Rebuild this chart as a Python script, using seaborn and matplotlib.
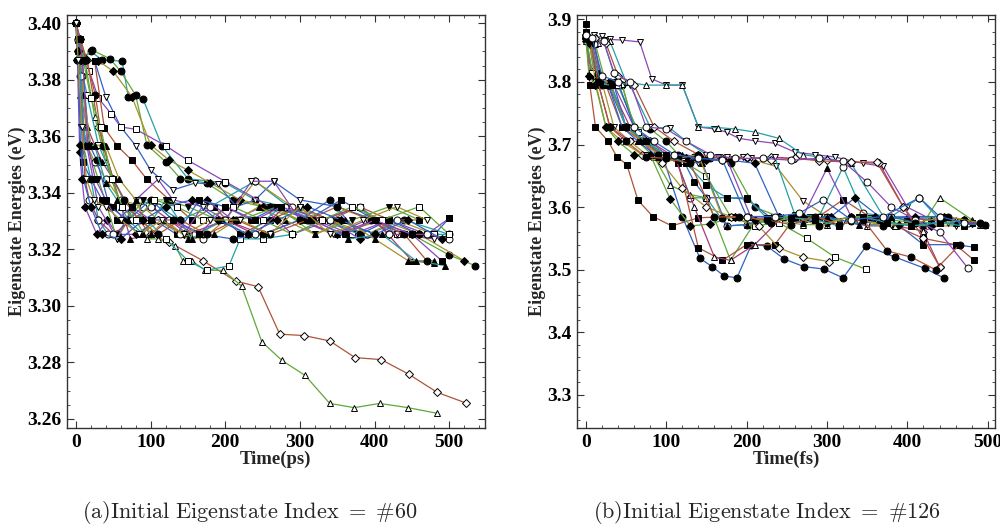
import matplotlib
matplotlib.use("Agg")
import matplotlib.pyplot as plt
import seaborn as sns
import numpy as np
from matplotlib.ticker import MultipleLocator, FormatStrFormatter

sns.set_theme(style="white")
plt.rcParams['font.family'] = ['Liberation Serif', 'DejaVu Serif']
plt.rcParams['mathtext.fontset'] = 'cm'

# ---------------- Panel (a) data: time (ps), energy (eV) ----------------
times_a = [
    [0,3,8,20,35,62,70,90,115,150,200,240,280,330,390,440,500],
    [0,4,10,22,45,60,80,95,120,140,175,210,250,300,350,400,450,500,535],
    [0,5,12,25,40,60,80,100,130,160,190,215,240,265,300,350,400,450,490],
    [0,3,8,18,30,47,60,80,120,150,200,260,320,370,420,470,500],
    [0,4,10,30,50,75,100,125,150,180,220,260,300,350,410,460,520],
    [0,5,10,25,38,55,75,95,125,155,185,220,260,300,340,380,420,460],
    [0,3,6,15,25,35,50,73,100,125,150,200,250,300,350,400,450,480],
    [0,2,5,10,20,30,43,55,85,110,140,180,240,285,330,380,430,470],
    [0,2,5,8,12,28,42,55,80,110,145,175,210,250,290,340,380,420,450],
    [0,3,7,15,30,55,70,90,120,150,190,220,270,320,370,420,460],
    [0,4,9,20,35,50,65,85,105,135,165,200,235,270,310,355,400,440,480,500],
    [0,3,8,15,25,40,60,90,110,140,170,200,240,290,340,390,430,480],
    [0,5,15,30,50,70,100,125,170,214,244,273,306,340,374,409,446,484,522],
    [0,4,12,25,40,60,80,95,110,133,143,155,173,197,222,249,276,307,340,373,407,445,484],
    [0,5,15,30,50,70,95,120,150,175,205,220,250,290,330,380,430,480,500],
    [0,3,6,10,30,55,80,110,130,170,200,235,265,300,345,390,430,480],
    [0,4,8,18,28,45,70,100,130,170,210,250,300,340,380,420,460],
    [0,5,10,20,40,58,80,100,120,150,185,215,245,280,320,360,400,445,480],
    [0,3,7,12,18,30,50,75,100,125,160,200,240,280,330,380,420,470,500],
    [0,5,12,25,40,55,70,90,120,155,195,230,275,320,365,410,455,495],
    [0,6,14,26,36,50,64,85,110,140,175,215,260,310,350,395,440,470],
    [0,4,10,20,33,48,62,80,105,135,170,210,250,290,330,370,410,460,500],
    [0,3,6,10,20,35,60,90,120,155,190,230,270,310,355,400,445,490],
    [0,4,9,16,26,40,55,75,100,130,165,200,240,275,315,360,400,450,490],
    [0,3,8,14,24,40,60,85,115,145,180,220,260,300,340,385,430,470],
]
energies_a = [
    [3.400,3.3945,3.387,3.390,3.387,3.3866,3.374,3.3731,3.3567,3.345,3.3435,3.3375,3.3351,3.3304,3.3253,3.3304,3.3253],
    [3.400,3.394,3.388,3.3905,3.3875,3.383,3.3745,3.357,3.351,3.345,3.3435,3.3375,3.3351,3.3304,3.3304,3.3253,3.3253,3.318,3.3142],
    [3.400,3.3945,3.387,3.3867,3.374,3.3633,3.3567,3.348,3.341,3.3435,3.343,3.3351,3.3375,3.344,3.3375,3.3351,3.3304,3.3253,3.3237],
    [3.400,3.394,3.387,3.383,3.3735,3.368,3.3633,3.3625,3.3567,3.3515,3.344,3.3351,3.3304,3.3253,3.3304,3.3253,3.331],
    [3.400,3.3945,3.3867,3.3867,3.383,3.374,3.357,3.3515,3.348,3.3435,3.3375,3.3351,3.3304,3.3253,3.3304,3.3253,3.316],
    [3.400,3.3945,3.387,3.3867,3.363,3.3567,3.3515,3.3448,3.3375,3.3304,3.3351,3.3253,3.3304,3.3351,3.3304,3.3351,3.3304,3.3304],
    [3.400,3.390,3.3745,3.3633,3.357,3.351,3.3448,3.3237,3.3253,3.3304,3.3253,3.3304,3.3253,3.3304,3.3253,3.3304,3.3160,3.3150],
    [3.400,3.387,3.3815,3.3567,3.3448,3.3304,3.3253,3.3253,3.3375,3.3351,3.3304,3.3351,3.3441,3.3351,3.3304,3.3253,3.3253,3.3253],
    [3.400,3.387,3.3545,3.345,3.3351,3.3253,3.3304,3.3253,3.3253,3.3304,3.3253,3.3375,3.3304,3.3351,3.3253,3.3304,3.3237,3.3253,3.3253],
    [3.400,3.3945,3.3633,3.3567,3.3448,3.3237,3.3304,3.3375,3.3375,3.3351,3.3304,3.3304,3.3351,3.3253,3.3304,3.3351,3.3304],
    [3.400,3.3945,3.351,3.3448,3.3375,3.3351,3.3304,3.3253,3.3304,3.3253,3.3375,3.3351,3.3304,3.3351,3.3304,3.3375,3.3304,3.3253,3.3253,3.331],
    [3.400,3.390,3.3815,3.3567,3.351,3.3448,3.3375,3.3351,3.3304,3.3253,3.3237,3.3304,3.3441,3.3351,3.3304,3.3253,3.3304,3.3253],
    [3.400,3.3945,3.387,3.3633,3.3448,3.3351,3.3253,3.3225,3.316,3.3088,3.3068,3.290,3.2895,3.2876,3.2817,3.281,3.2758,3.2694,3.2657],
    [3.400,3.394,3.387,3.367,3.351,3.3351,3.3304,3.3237,3.3237,3.3213,3.316,3.316,3.3126,3.3126,3.307,3.2873,3.2807,3.2754,3.2655,3.264,3.2655,3.264,3.262],
    [3.400,3.3867,3.3745,3.357,3.3448,3.3351,3.3304,3.3237,3.316,3.3126,3.3142,3.3237,3.3237,3.3253,3.3304,3.3351,3.3253,3.3253,3.3253],
    [3.400,3.3945,3.3867,3.363,3.3351,3.3237,3.3375,3.3448,3.3375,3.3351,3.3304,3.3441,3.3441,3.3304,3.3253,3.3304,3.3253,3.3237],
    [3.400,3.394,3.3867,3.357,3.3515,3.3351,3.3304,3.3375,3.3304,3.3253,3.3237,3.3253,3.3304,3.3375,3.3253,3.3304,3.3253],
    [3.400,3.3945,3.3745,3.357,3.3567,3.3448,3.3375,3.3253,3.3304,3.3237,3.3253,3.3304,3.3351,3.3304,3.3253,3.3304,3.3237,3.3160,3.3160],
    [3.400,3.394,3.3815,3.3448,3.3375,3.3304,3.3253,3.3304,3.3351,3.3304,3.3253,3.3304,3.3253,3.3351,3.3304,3.3351,3.3253,3.3253,3.3237],
    [3.400,3.387,3.357,3.3567,3.3435,3.3375,3.3304,3.3253,3.3375,3.3237,3.3304,3.3253,3.3351,3.3304,3.3237,3.3253,3.3160,3.3142],
    [3.400,3.3945,3.387,3.3745,3.3567,3.3448,3.3375,3.3304,3.3253,3.3304,3.3253,3.3304,3.3253,3.3304,3.3351,3.3304,3.3253,3.3160],
    [3.400,3.3945,3.3867,3.3735,3.3633,3.3448,3.3351,3.3304,3.3375,3.3351,3.3304,3.3351,3.3304,3.3253,3.3304,3.3351,3.3304,3.3351,3.3253],
    [3.400,3.390,3.357,3.3448,3.3351,3.3253,3.3237,3.3304,3.3351,3.3375,3.3304,3.3253,3.3304,3.3351,3.3304,3.3253,3.3304,3.3237],
    [3.400,3.3945,3.387,3.3567,3.3448,3.3375,3.3304,3.3351,3.3304,3.3304,3.3253,3.3351,3.3304,3.3351,3.3304,3.3253,3.3304,3.3253,3.3160],
    [3.400,3.387,3.3633,3.3448,3.3375,3.3351,3.3304,3.3253,3.3304,3.3253,3.3304,3.3304,3.3253,3.3351,3.3253,3.3304,3.3351,3.3304],
]
colors_a = ["teal","green","blue","purple","olive","red","magenta","teal","purple","green",
            "blue","olive","red","green","teal","purple","blue","olive","magenta","teal",
            "red","green","blue","purple","olive"]
markers_a = ["o","o","v","s","D","s","^","o","D","v",
             "s","o","D","^","s","v","o","^","o","^",
             "o","s","D","s","v"]
filled_a = [True,True,False,False,True,True,True,False,True,True,
            True,False,False,False,False,False,True,True,False,True,
            True,False,True,True,False]

# ---------------- Panel (b) data: time (fs), energy (eV) ----------------
times_b = [
    [0,5,12,28,38.6,51,64.8,83.4,107,140,180,230,280,330,380,430,480],
    [0,8,20,40,70,95,120,142,157,172,188,206,225,247,271,296,320,349,385,422,445],
    [0,10,20,30,45,67,82,100,120,140,160,175,190,210,235,260,285,310,345,370,400,430,470],
    [0,15,30,50,75,100,120,140,165,185,210,240,270,300,330,370,410,450,490],
    [0,5,15,30,45,60,80,100,115,135,155,180,210,240,270,300,330,360,400,440,470,497],
    [0,6,12,22,35,50,70,95,120,135,150,175,200,230,260,300,340,380,420,460,483],
    [0,8,20,35,55,75,95,115,140,165,195,237,270,300,340,380,420,460],
    [0,7,15,30,55,80,110,140,170,200,230,260,300,330,365,395,420,440],
    [0,4,10,18,30,50,70,90,110,130,150,175,200,230,260,290,320,345,380,415,440,475],
    [0,12,25,45,65,85,105,130,150,180,210,240,270,300,340,380,420,440,480],
    [0,5,12,25,45,70,95,115,140,170,200,235,260,290,320,355,385,420,460,483],
    [0,10,20,35,60,80,100,120,145,175,205,235,270,300,330,365,400,430,470],
    [0,6,14,28,50,75,100,125,150,180,210,240,275,305,335,370,410,445,480],
    [0,8,18,40,65,95,120,150,180,210,240,275,310,348],
    [0,5,12,25,45,70,95,120,150,180,215,240,270,302],
    [0,8,16,30,55,85,110,135,160,180,210,245,280,310,350,385,420,460,495],
    [0,10,22,38,55,80,105,125,150,175,205,235,260,290,320,350,380,410,450,490],
    [0,12,25,40,60,85,110,140,170,200,230,260,290,330,362,395,420,440],
    [0,6,15,28,45,65,90,115,145,175,200,230,270,300,340,380,420,460,497],
    [0,4,12,25,40,60,80,105,130,155,185,210,240,270,300,330,360,390,430,470],
    [0,10,22,35,55,75,100,125,155,185,220,255,290,320,350,380,410,440,475],
    [0,5,15,30,50,70,90,115,140,170,200,230,260,290,330,370,410,450,490],
    [0,7,18,32,50,75,100,125,150,175,200,225,255,285,315,345,375,405,440,470],
    [0,6,15,30,50,75,100,130,160,190,225,255,285,315,345,375,405,435,465],
    [0,8,20,40,60,85,110,140,170,200,235,265,295,330,370,415,440,470],
]
energies_b = [
    [3.893,3.795,3.728,3.705,3.6805,3.668,3.611,3.585,3.570,3.583,3.585,3.579,3.585,3.579,3.585,3.579,3.575],
    [3.870,3.815,3.795,3.795,3.705,3.684,3.585,3.518,3.505,3.490,3.487,3.540,3.538,3.517,3.505,3.501,3.487,3.538,3.520,3.502,3.487],
    [3.875,3.870,3.873,3.868,3.867,3.864,3.805,3.795,3.795,3.728,3.725,3.720,3.710,3.706,3.702,3.688,3.684,3.680,3.670,3.665,3.600,3.580,3.575],
    [3.870,3.862,3.865,3.800,3.795,3.795,3.795,3.728,3.727,3.725,3.720,3.710,3.684,3.678,3.670,3.585,3.585,3.580,3.572],
    [3.870,3.862,3.810,3.800,3.795,3.728,3.725,3.705,3.684,3.680,3.678,3.670,3.600,3.585,3.580,3.585,3.578,3.585,3.580,3.585,3.580,3.572],
    [3.880,3.862,3.815,3.795,3.795,3.728,3.705,3.684,3.678,3.640,3.615,3.615,3.613,3.583,3.585,3.579,3.585,3.580,3.540,3.540,3.536],
    [3.870,3.870,3.800,3.728,3.705,3.684,3.670,3.678,3.670,3.680,3.680,3.665,3.610,3.585,3.575,3.575,3.570,3.570],
    [3.865,3.815,3.800,3.728,3.705,3.705,3.680,3.678,3.675,3.678,3.680,3.678,3.675,3.672,3.670,3.600,3.560,3.505],
    [3.875,3.865,3.817,3.800,3.795,3.728,3.710,3.684,3.684,3.615,3.615,3.570,3.572,3.580,3.585,3.585,3.664,3.590,3.585,3.615,3.580,3.575],
    [3.865,3.860,3.797,3.797,3.705,3.680,3.635,3.620,3.615,3.515,3.575,3.578,3.572,3.572,3.585,3.579,3.575,3.615,3.580],
    [3.870,3.810,3.795,3.795,3.728,3.705,3.684,3.670,3.535,3.515,3.540,3.540,3.583,3.585,3.612,3.583,3.570,3.550,3.540,3.515],
    [3.875,3.865,3.800,3.795,3.728,3.705,3.684,3.684,3.680,3.678,3.585,3.583,3.585,3.662,3.585,3.579,3.585,3.579,3.575],
    [3.870,3.862,3.800,3.795,3.728,3.705,3.680,3.678,3.675,3.675,3.670,3.585,3.583,3.585,3.615,3.580,3.585,3.585,3.575],
    [3.875,3.815,3.797,3.795,3.720,3.684,3.674,3.650,3.585,3.570,3.575,3.550,3.520,3.501],
    [3.870,3.860,3.800,3.728,3.705,3.684,3.670,3.630,3.600,3.585,3.570,3.535,3.520,3.513],
    [3.880,3.862,3.815,3.795,3.728,3.684,3.682,3.600,3.520,3.515,3.540,3.585,3.583,3.580,3.570,3.570,3.562,3.580,3.572],
    [3.870,3.875,3.867,3.800,3.795,3.728,3.726,3.705,3.684,3.680,3.678,3.680,3.588,3.585,3.578,3.572,3.572,3.575,3.575,3.572],
    [3.875,3.870,3.862,3.810,3.795,3.728,3.705,3.684,3.678,3.680,3.676,3.678,3.674,3.672,3.672,3.600,3.550,3.505],
    [3.870,3.865,3.810,3.795,3.728,3.705,3.680,3.675,3.670,3.570,3.572,3.585,3.575,3.585,3.572,3.585,3.572,3.575,3.572],
    [3.870,3.810,3.795,3.728,3.705,3.684,3.684,3.613,3.570,3.573,3.585,3.580,3.585,3.585,3.575,3.585,3.585,3.572,3.570,3.580],
    [3.870,3.860,3.865,3.815,3.800,3.728,3.725,3.705,3.684,3.678,3.678,3.675,3.678,3.673,3.640,3.600,3.580,3.560,3.503],
    [3.875,3.862,3.813,3.795,3.728,3.705,3.684,3.678,3.684,3.583,3.585,3.575,3.585,3.570,3.585,3.570,3.575,3.585,3.575],
    [3.870,3.862,3.797,3.795,3.728,3.705,3.684,3.670,3.635,3.615,3.615,3.583,3.583,3.580,3.570,3.585,3.575,3.570,3.575,3.570],
    [3.870,3.865,3.800,3.728,3.705,3.680,3.678,3.670,3.584,3.585,3.580,3.572,3.585,3.572,3.580,3.530,3.520,3.500,3.540],
    [3.875,3.870,3.810,3.800,3.728,3.705,3.684,3.678,3.675,3.585,3.585,3.590,3.612,3.580,3.585,3.615,3.585,3.575],
]
colors_b = ["red","blue","purple","teal","green","blue","olive","magenta","teal","green",
            "red","purple","blue","green","olive","magenta","teal","red","blue","green",
            "purple","olive","teal","red","blue"]
markers_b = ["s","o","v","^","o","s","v","D","o","^",
             "s","^","D","s","D","^","v","D","^","D",
             "o","o","s","o","o"]
filled_b = [True,True,False,False,True,True,False,False,False,False,
            True,True,True,False,False,False,False,False,True,True,
            False,True,True,True,False]

palette = {
    "red": "#B0533A", "green": "#5FA83A", "blue": "#2F62C4", "purple": "#8B48B8",
    "teal": "#23A0A6", "olive": "#A8922C", "magenta": "#A83A78",
}

captions = [r"$\mathrm{(a)Initial\ Eigenstate\ Index\ =\ \#60}$",
            r"$\mathrm{(b)Initial\ Eigenstate\ Index\ =\ \#126}$"]
caption_x = [0.250, 0.767]
xlabels = ["Time(ps)", "Time(fs)"]

fig = plt.figure(figsize=(10, 5.29), dpi=100)
ax_a = fig.add_axes([0.067, 0.1909, 0.418, 0.7807])
ax_b = fig.add_axes([0.577, 0.1909, 0.418, 0.7807])


def draw(ax, times, energies, colors, markers, filled):
    for t, e, c, m, f in zip(times, energies, colors, markers, filled):
        ms = 5.0 if m != "D" else 3.8
        sns.lineplot(x=np.array(t, dtype=float), y=np.array(e), ax=ax, sort=False,
                     estimator=None, color=palette[c], linewidth=0.9,
                     marker=m, markersize=ms,
                     markerfacecolor=("black" if f else "white"),
                     markeredgecolor="black", markeredgewidth=0.7)


draw(ax_a, times_a, energies_a, colors_a, markers_a, filled_a)
draw(ax_b, times_b, energies_b, colors_b, markers_b, filled_b)

ax_a.set_xlim(-12, 548)
ax_a.set_ylim(3.2568, 3.4029)
ax_a.xaxis.set_major_locator(MultipleLocator(100))
ax_a.xaxis.set_minor_locator(MultipleLocator(20))
ax_a.yaxis.set_major_locator(MultipleLocator(0.02))
ax_a.yaxis.set_minor_locator(MultipleLocator(0.005))
ax_a.yaxis.set_major_formatter(FormatStrFormatter("%.2f"))

ax_b.set_xlim(-11, 509)
ax_b.set_ylim(3.247, 3.907)
ax_b.xaxis.set_major_locator(MultipleLocator(100))
ax_b.xaxis.set_minor_locator(MultipleLocator(20))
ax_b.yaxis.set_major_locator(MultipleLocator(0.1))
ax_b.yaxis.set_minor_locator(MultipleLocator(0.02))
ax_b.yaxis.set_major_formatter(FormatStrFormatter("%.1f"))

for ax, xl, cap, cx in zip([ax_a, ax_b], xlabels, captions, caption_x):
    ax.tick_params(which="both", direction="in", top=True, right=True,
                   bottom=True, left=True, colors="#333333", labelcolor="black")
    ax.tick_params(which="major", length=5, width=0.8, labelsize=14, pad=4)
    ax.tick_params(which="minor", length=2.5, width=0.6)
    for lab in ax.get_xticklabels() + ax.get_yticklabels():
        lab.set_fontweight("bold")
    ax.set_xlabel(xl, fontsize=13.5, fontweight="bold", labelpad=0)
    ax.set_ylabel("Eigenstate Energies (eV)", fontsize=13, fontweight="bold", labelpad=1)
    for s in ax.spines.values():
        s.set_color("#333333")
        s.set_linewidth(1.0)
    fig.text(cx, 1 - 512 / 529, cap, ha="center", va="center", fontsize=16)

fig.savefig("out.png", dpi=100)
